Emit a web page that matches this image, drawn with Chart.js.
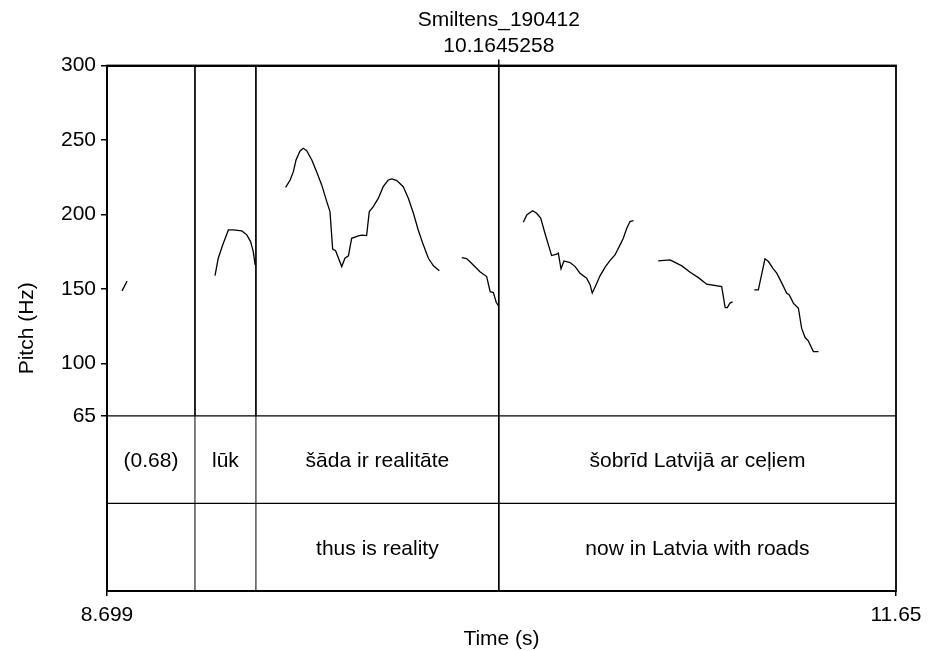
<!DOCTYPE html>
<html>
<head>
<meta charset="utf-8">
<script src="https://cdn.jsdelivr.net/npm/chart.js@4.4.1/dist/chart.umd.min.js"></script>
<style>
  html, body { margin: 0; padding: 0; background: #fff; }
  #wrap { width: 935px; height: 651px; }
</style>
</head>
<body>
<div id="wrap"><canvas id="pitchChart" width="935" height="651"></canvas></div>
<script>
const fileName = 'Smiltens_190412';
const cursorTime = 10.1645258;
const timeRange = [8.699, 11.65];
const timeTickLabels = ['8.699', '11.65'];
const pitchTicks = [65, 100, 150, 200, 250, 300];

// interval tiers under the pitch panel
const tierBounds = [8.699, 9.028, 9.256, 10.1645258, 11.65];
const wordTier = ['(0.68)', 'lūk', 'šāda ir realitāte', 'šobrīd Latvijā ar ceļiem'];
const glossTier = ['', '', 'thus is reality', 'now in Latvia with roads'];

// pitch contour pieces, [time (s), pitch (Hz)]
const seg1 = [[8.755, 148.8], [8.763, 151.5], [8.774, 155.5]];
const seg2 = [[9.103, 159.1], [9.115, 170.7], [9.132, 179.7], [9.153, 189.7], [9.171, 189.7],
  [9.203, 189.0], [9.222, 186.4], [9.236, 181.9], [9.246, 175.2], [9.253, 166.2]];
const seg3 = [[9.367, 218.3], [9.384, 223.2], [9.396, 228.8], [9.406, 236.6], [9.421, 242.7],
  [9.433, 244.5], [9.446, 242.9], [9.465, 236.6], [9.483, 228.8], [9.502, 219.9], [9.521, 208.7],
  [9.533, 202.0], [9.543, 176.8], [9.554, 175.8], [9.577, 165.1], [9.589, 170.7], [9.602, 172.3],
  [9.614, 184.1], [9.639, 185.7], [9.652, 186.2], [9.670, 185.9], [9.680, 202.0], [9.695, 205.3],
  [9.714, 211.0], [9.732, 218.7], [9.751, 223.2], [9.764, 223.9], [9.783, 222.8], [9.807, 218.7],
  [9.826, 211.0], [9.845, 200.9], [9.863, 189.7], [9.882, 179.7], [9.901, 170.7], [9.920, 165.6],
  [9.942, 162.4]];
const seg4 = [[10.026, 171.1], [10.044, 170.5], [10.069, 166.2], [10.094, 161.7], [10.119, 158.4],
  [10.132, 148.3], [10.144, 147.7], [10.155, 141.0], [10.163, 139.0]];
const seg5 = [[10.256, 194.9], [10.269, 199.8], [10.291, 202.6], [10.306, 200.9], [10.321, 197.6],
  [10.337, 187.5], [10.362, 172.5], [10.381, 173.4], [10.387, 174.1], [10.397, 163.6], [10.408, 168.9],
  [10.431, 167.8], [10.450, 165.1], [10.468, 160.7], [10.493, 157.3], [10.506, 152.8], [10.514, 147.3],
  [10.528, 152.8], [10.543, 158.9], [10.562, 164.7], [10.580, 169.1], [10.599, 172.9], [10.618, 179.7],
  [10.630, 184.1], [10.643, 190.8], [10.655, 195.3], [10.668, 195.9]];
const seg6 = [[10.761, 168.9], [10.805, 169.6], [10.849, 165.6], [10.880, 161.3], [10.911, 157.7],
  [10.942, 153.3], [10.998, 151.7], [11.011, 137.6], [11.019, 137.6], [11.029, 140.6], [11.039, 141.4]];
const seg7 = [[11.120, 149.5], [11.135, 149.5], [11.160, 170.3], [11.173, 168.5], [11.191, 163.6],
  [11.204, 160.7], [11.223, 154.0], [11.241, 147.3], [11.251, 146.1], [11.266, 140.6], [11.285, 137.2],
  [11.297, 123.8], [11.310, 117.5], [11.322, 115.3], [11.341, 108.1], [11.360, 108.1]];

const segments = [seg1, seg2, seg3, seg4, seg5, seg6, seg7];

// the two tiers together take half the height of the pitch panel
const pitchMin = pitchTicks[0];
const pitchMax = pitchTicks[pitchTicks.length - 1];
const axisMin = pitchMin - (pitchMax - pitchMin) * 0.5;

const FONT = { family: '"Liberation Sans", Arial, sans-serif', size: 21 };

const tierPlugin = {
  id: 'tiers',
  afterDatasetsDraw(chart) {
    const { ctx, chartArea: a, scales: { x, y } } = chart;
    const floorY = y.getPixelForValue(pitchMin);
    const midY = (floorY + a.bottom) / 2;
    ctx.save();
    ctx.strokeStyle = '#000';

    // interval boundaries
    tierBounds.slice(1, -1).forEach(t => {
      const px = x.getPixelForValue(t);
      const isCursor = t === cursorTime;
      ctx.lineWidth = 1.7;
      ctx.beginPath();
      ctx.moveTo(px, a.top);
      ctx.lineTo(px, floorY);
      ctx.stroke();
      ctx.lineWidth = isCursor ? 1.7 : 1;
      ctx.beginPath();
      ctx.moveTo(px, floorY);
      ctx.lineTo(px, a.bottom);
      ctx.stroke();
    });

    // tier separators
    ctx.lineWidth = 1.3;
    [floorY, midY].forEach(py => {
      ctx.beginPath();
      ctx.moveTo(a.left, py);
      ctx.lineTo(a.right, py);
      ctx.stroke();
    });

    // frame
    ctx.lineWidth = 1.8;
    ctx.strokeRect(a.left, a.top, a.right - a.left, a.bottom - a.top);

    // tier texts
    ctx.fillStyle = '#000';
    ctx.font = FONT.size + 'px ' + FONT.family;
    ctx.textAlign = 'center';
    ctx.textBaseline = 'middle';
    for (let i = 0; i < wordTier.length; i++) {
      const cx = x.getPixelForValue((tierBounds[i] + tierBounds[i + 1]) / 2);
      ctx.fillText(wordTier[i], cx, (floorY + midY) / 2 + 1.5);
      ctx.fillText(glossTier[i], cx, (midY + a.bottom) / 2 + 1.5);
    }
    ctx.restore();
  }
};

new Chart(document.getElementById('pitchChart'), {
  type: 'line',
  data: {
    datasets: segments.map(seg => ({
      data: seg.map(([t, f]) => ({ x: t, y: f })),
      borderColor: '#000',
      borderWidth: 1.3,
      pointRadius: 0,
      tension: 0,
      fill: false
    }))
  },
  options: {
    responsive: false,
    animation: false,
    events: [],
    layout: { padding: { left: 0, right: 39, top: 0, bottom: 0 } },
    plugins: { legend: { display: false }, tooltip: { enabled: false } },
    scales: {
      x: {
        type: 'linear',
        min: timeRange[0],
        max: timeRange[1],
        afterBuildTicks: s => { s.ticks = timeRange.map(v => ({ value: v })); },
        afterFit: s => { s.height = 60; },
        ticks: {
          autoSkip: false, maxRotation: 0, color: '#000', font: FONT, padding: 7,
          callback: (v, i) => timeTickLabels[i]
        },
        grid: { drawOnChartArea: false, drawTicks: true, tickLength: 5, color: '#000', lineWidth: 1.5 },
        border: { display: true, color: '#000', width: 2 },
        title: { display: true, text: 'Time (s)', color: '#000', font: { ...FONT, lineHeight: 1.0 }, padding: { top: 0, bottom: 1 } }
      },
      x2: {
        type: 'linear',
        position: 'top',
        min: timeRange[0],
        max: timeRange[1],
        afterBuildTicks: s => { s.ticks = [{ value: cursorTime }]; },
        afterFit: s => { s.height = 65.5; },
        ticks: {
          autoSkip: false, maxRotation: 0, color: '#000', font: { ...FONT, lineHeight: 1.2 }, padding: 1,
          callback: () => [fileName, cursorTime.toFixed(7)]
        },
        grid: { drawOnChartArea: false, drawTicks: true, tickLength: 6, color: '#000', lineWidth: 1.5 },
        border: { display: true, color: '#000', width: 2 }
      },
      y: {
        type: 'linear',
        min: axisMin,
        max: pitchMax,
        afterBuildTicks: s => { s.ticks = pitchTicks.map(v => ({ value: v })); },
        afterFit: s => { s.width = 107; },
        ticks: { autoSkip: false, color: '#000', font: FONT, padding: 5, callback: v => String(v) },
        grid: { drawOnChartArea: false, drawTicks: true, tickLength: 6, color: '#000', lineWidth: 1.5 },
        border: { display: true, color: '#000', width: 2 },
        title: { display: true, text: 'Pitch (Hz)', color: '#000', font: FONT, padding: { top: 15, bottom: 15 } }
      }
    }
  },
  plugins: [tierPlugin]
});
</script>
</body>
</html>
